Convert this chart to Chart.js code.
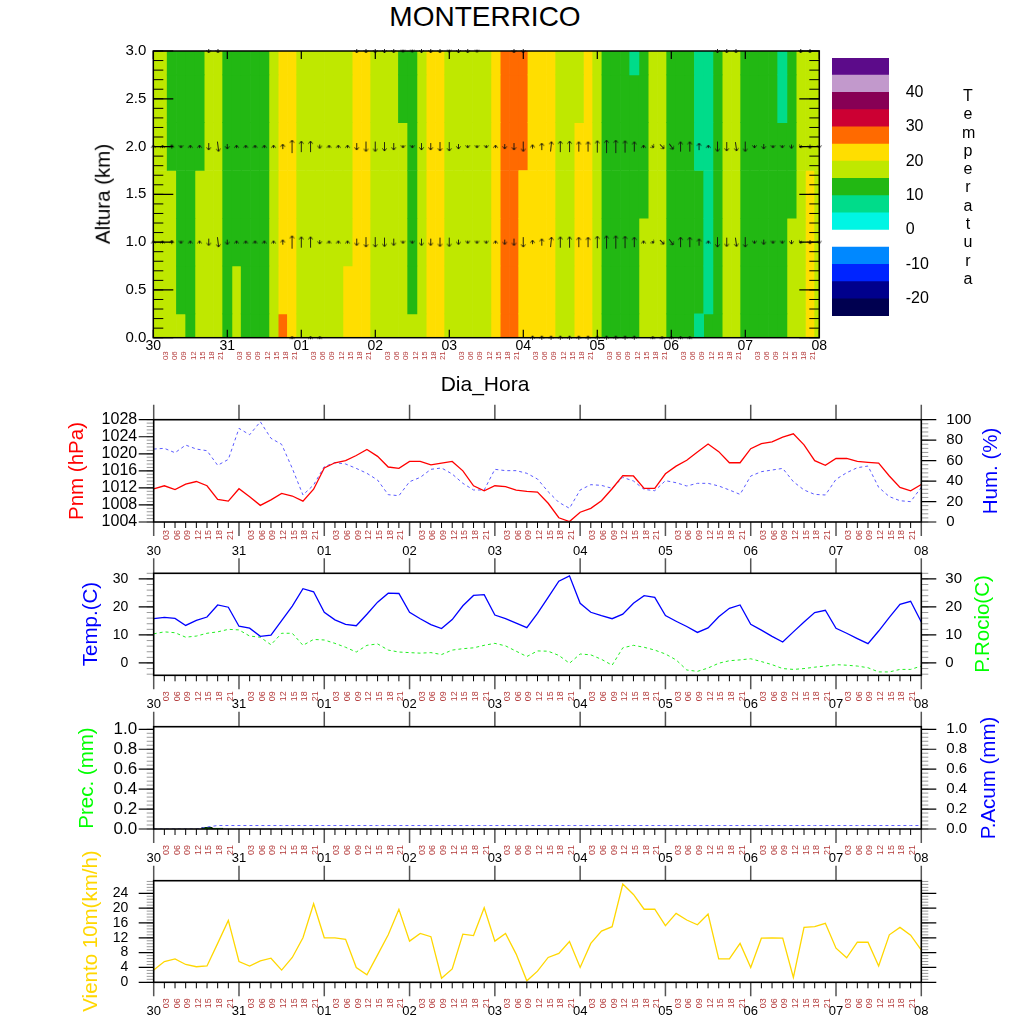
<!DOCTYPE html>
<html>
<head>
<meta charset="utf-8">
<title>MONTERRICO</title>
<script src="https://cdn.jsdelivr.net/npm/chart.js@4.4.1/dist/chart.umd.min.js"></script>
<style>
  html,body{margin:0;padding:0;background:#fff;}
  #page{position:relative;width:1024px;height:1024px;overflow:hidden;background:#fff;
        font-family:"Liberation Sans",Arial,Helvetica,sans-serif;color:#000;}
  #page canvas{position:absolute;}
  .txt{position:absolute;white-space:nowrap;line-height:1;}
  .vt{transform:translate(-50%,-50%) rotate(-90deg);font-size:20.5px;}
</style>
</head>
<body>
<div id="page">
  <div class="txt" style="left:0;top:3px;width:970px;text-align:center;font-size:28px;line-height:28px;">MONTERRICO</div>
  <canvas id="cTop" width="1024" height="340" style="left:0;top:40px;width:1024px;height:340px"></canvas>
  <canvas id="cBar" width="140" height="300" style="left:820px;top:40px;width:140px;height:300px"></canvas>
  <div class="txt" style="left:962px;top:87px;width:12px;font-size:16px;line-height:18.3px;text-align:center;word-break:break-all;white-space:normal;">Temperatura</div>
  <div class="txt" style="left:0;top:373px;width:970px;text-align:center;font-size:21px;line-height:21px;">Dia_Hora</div>
  <canvas id="cP2" width="1024" height="168" style="left:0;top:398px;width:1024px;height:168px"></canvas>
  <canvas id="cP3" width="1024" height="168" style="left:0;top:552px;width:1024px;height:168px"></canvas>
  <canvas id="cP4" width="1024" height="168" style="left:0;top:705px;width:1024px;height:168px"></canvas>
  <canvas id="cP5" width="1024" height="165" style="left:0;top:859px;width:1024px;height:165px"></canvas>

  <div class="txt vt" style="left:103px;top:194px;">Altura (km)</div>
  <div class="txt vt" style="left:76px;top:471px;color:#ff0000;">Pnm (hPa)</div>
  <div class="txt vt" style="left:990px;top:471px;color:#0000ff;">Hum. (%)</div>
  <div class="txt vt" style="left:90px;top:624px;color:#0000ff;">Temp.(C)</div>
  <div class="txt vt" style="left:982px;top:624px;color:#00ff00;">P.Rocio(C)</div>
  <div class="txt vt" style="left:86px;top:778px;color:#00ff00;">Prec. (mm)</div>
  <div class="txt vt" style="left:988px;top:778px;color:#0000ff;">P.Acum (mm)</div>
  <div class="txt vt" style="left:90px;top:931px;color:#ffd700;">Viento 10m(km/h)</div>
</div>

<script>
// ---------------- time axis (3-hourly) ----------------
const days  = ['30','31','01','02','03','04','05','06','07','08'];
const hours = ['00','03','06','09','12','15','18','21'];

// ---------------- contour: temperature (C) by height ----------------
const heightsKm = [0, 0.5, 1.0, 1.5, 2.0, 2.5, 3.0];
const tempH0 = [15.8,16.3,15.9,15.2,14.5,16.4,19.5,19.2,13.1,15.1, 11.5,11.9,14.6,19.8,26.5,24.8,18.1,15.4,15.8,15.6, 17.4,21.7,24.9,24.8,18.1,15.8,15.7,15.3,15.5,19.4, 24.1,24.4,17.1,15.8,16.2,15.6,17.7,23.4,29.2,29.8, 24.5,21.0,20.6,20.3,17.4,19.6,22.5,23.4,16.9,14.9, 13.0,10.9,12.5,16.5,19.5,18.7,13.8,11.7,10.5,8.5, 11.1,14.6,18.0,18.8,12.4,10.6,10.7,11.9,12.4,16.3, 19.6,22.0,16.6];
const tempH1 = [15.6,16.0,15.7,14.2,13.8,16.1,19.0,18.8,12.8,15.1, 11.3,11.7,14.2,19.2,24.6,24.2,17.8,15.3,15.6,15.5, 17.2,21.2,24.5,24.3,17.9,15.7,15.6,15.2,14.6,19.0, 23.6,23.9,16.9,15.7,16.0,15.5,17.5,23.0,28.6,29.2, 24.0,20.8,20.5,20.2,17.3,19.2,22.0,22.9,16.7,14.6, 12.8,10.8,12.3,16.3,19.1,18.4,13.5,11.5,10.3,10.4, 9.6,14.3,17.8,18.5,12.2,10.5,10.6,11.7,12.2,16.0, 19.2,21.6,16.4];
const tempH2 = [15.5,15.8,15.5,14.0,13.5,15.9,18.8,18.6,12.6,14.2, 11.2,11.6,14.0,18.9,23.8,23.6,17.6,15.2,15.5,15.4, 17.0,19.6,24.1,23.9,17.7,15.6,15.5,15.1,14.3,18.7, 23.2,23.5,16.8,15.6,15.9,15.4,17.3,22.6,28.1,28.7, 23.6,20.7,20.4,20.1,17.2,18.9,21.6,22.5,16.5,14.4, 12.7,10.7,12.2,16.1,18.8,18.2,13.3,11.4,10.2,10.3, 9.5,14.1,17.6,18.3,12.1,10.4,10.5,11.6,12.1,15.8, 18.9,21.2,16.3];
const tempH3 = [15.4,15.7,15.3,13.8,13.3,15.6,18.6,18.4,12.5,14.0, 11.1,11.5,13.8,18.6,23.2,23.1,17.4,15.2,15.4,15.3, 16.9,19.4,23.7,23.5,17.5,15.5,15.4,15.0,14.1,18.5, 22.8,23.1,16.7,15.5,15.8,15.3,17.1,22.3,27.6,28.2, 23.3,20.6,20.3,20.0,17.1,18.7,21.3,22.2,16.3,14.2, 12.6,10.6,12.1,14.8,18.5,17.9,13.1,11.3,10.1,10.2, 9.4,13.9,17.4,18.1,12.0,10.3,10.4,11.5,11.9,14.6, 18.6,20.6,16.2];
const tempH4 = [15.3,15.5,14.8,13.6,13.1,14.8,18.4,18.2,12.4,13.8, 11.0,11.4,13.6,18.4,22.8,22.7,17.2,15.1,15.3,15.2, 16.8,19.2,23.3,23.1,17.3,15.4,15.3,15.0,14.0,18.3, 22.5,22.8,16.6,15.4,15.7,15.2,17.0,22.0,27.2,27.8, 25.3,20.5,20.2,20.0,17.0,18.5,21.0,21.9,16.2,14.1, 12.5,10.5,12.0,14.6,18.3,17.7,13.0,11.2,10.0,9.6, 9.3,13.8,17.3,17.9,11.9,10.2,10.3,11.4,11.7,14.4, 18.4,19.6,16.1];
const tempH5 = [15.2,15.4,14.6,13.5,13.0,14.7,18.2,18.0,12.3,13.7, 10.9,11.3,13.5,18.2,22.5,22.4,17.1,15.1,15.2,15.1, 16.7,19.0,23.0,22.8,17.2,15.3,15.2,14.8,13.9,18.1, 22.2,22.5,16.5,15.3,15.6,15.1,16.9,21.7,26.8,27.4, 25.6,20.4,20.1,20.0,16.9,18.3,19.8,21.6,16.1,14.0, 12.4,10.4,11.9,14.4,18.1,17.5,12.9,11.1,10.1,9.2, 9.2,13.7,17.2,17.7,11.8,10.1,10.2,11.3,9.8,14.2, 18.2,19.3,16.0];
const tempH6 = [15.1,15.3,14.4,13.4,12.9,14.6,18.0,17.8,12.2,13.6, 10.8,11.2,13.4,18.0,22.2,22.1,17.0,15.0,15.1,15.0, 16.6,18.8,22.7,22.5,17.1,15.2,15.1,14.6,13.8,17.9, 21.9,22.2,16.4,15.2,15.5,15.0,16.8,21.4,26.5,27.1, 25.8,20.3,20.1,20.0,16.8,18.1,19.6,21.3,16.0,13.9, 12.3,10.3,9.8,14.2,17.9,17.3,12.8,11.0,10.2,8.9, 9.1,13.6,17.1,17.5,11.7,10.0,10.1,11.2,9.6,14.0, 18.0,19.1,15.9];
const tempRows = [tempH0, tempH1, tempH2, tempH3, tempH4, tempH5, tempH6];

// contour levels and colours (C)
const levelBounds = [-25,-20,-15,-10,-5,0,5,10,15,20,25,30,35,40,45,50];
const levelColors = ['#000050','#00008c','#0024ff','#0088ff','#ffffff','#00f5e4','#00dc8a','#22b813','#bfe800','#ffde00','#ff6a00','#cc0033','#870055','#c299cc','#5c0b8a'];
const cbarLabels  = [-20,-10,0,10,20,30,40];

// ---------------- wind vectors (arbitrary units; v = north, u = east) ----------------
const windLevelsKm = [0, 1, 2, 3];
const windV0 = [0,0,0,0,0,0,0,0,0,0, 0,0,0,0,0,1,0,0.5,0.5,0, 0,0,0,0,0,0,0,0,0,0, 0,0,0,0,0,0,0,0,0,0, 0,1.5,1.5,1.5,1.5,1.5,1.5,1.5,1.5,1.5, 1.5,1.5,1.5,0,1,1,1,1,1,0, 0,0,0,0,0,0,0,0,0,0, 0,0,0];
const windV1 = [0.5,1,1.5,-1,0.5,0.5,-2.5,-4,-2,0.5, 0.5,0.5,0.5,0.5,2,5.5,4.5,4.5,-1.5,0.5, 0.5,0.5,-2.5,-4,-4,-3.5,-2.5,-1,-0.5,-2.5, -2.5,-3.5,-3.5,-2,-0.5,-0.5,-0.5,0.5,-2,-2.5, -4,1.5,2.5,4,4.5,4.5,4,4,5,5.5, 5.5,5,4,0.5,-0.5,-1.5,-2,4,4,2.5, 0.5,-4,-3.5,-3.5,-4,-1,-2,-0.5,-0.5,-1.5, -1,-1.5,-1];
const windU1 = [0,0,0,0,0,0,0,0.5,0,0, 0,0,0,0,0,0,0,0,0,0, 0,0,0,0,0,0,0,0,0,0, 0,0,0,0,0,0,0,0,0,0, 0,0,0,0.4,0,0,0,0,0,0, 0,0,0,0,0.5,1.5,1.5,0,0,0, 0,0,0,0.5,0,0,0,0,0,0, -0.5,0,0];
const windV2 = [0.5,1,1.5,-1,0.5,0.5,-2.5,-4,-2,0.5, 0.5,0.5,0.5,0.5,2,5.5,4.5,4.5,-1.5,0.5, 0.5,0.5,-2.5,-4,-4,-3.5,-2.5,-1,-0.5,-2.5, -2.5,-3.5,-3.5,-2,-0.5,-0.5,-0.5,0.5,-2,-2.5, -4,1.5,2.5,4,4.5,4.5,4,4,5,5.5, 5.5,5,4,0.5,-0.5,-1.5,-2,4,4,2.5, 0.5,-4,-3.5,-3.5,-4,-1,-2,-0.5,-0.5,-1.5, -1,-1.5,-1];
const windU2 = [0,0,0,0,0,0,0,0.5,0,0, 0,0,0,0,0,0,0,0,0,0, 0,0,0,0,0,0,0,0,0,0, 0,0,0,0,0,0,0,0,0,0, 0,0,0,0.4,0,0,0,0,0,0, 0,0,0,0,0.5,1.5,1.5,0,0,0, 0,0,0,0.5,0,0,0,0,0,0, -0.5,0,0];
const windV3 = [0,0,0,0,0,0,-1.5,-1.5,0,0, 0,0,0,0,0,0,0,0,0,0, 0,0,-1.5,-1.5,-1.5,-1.5,-1.5,-0.5,-0.5,-1.5, -1.5,-1.5,-0.5,-1.5,-1.5,-0.5,0,0,0,-1.5, -1.5,0,0,0,0,0,0,0,0,0, 0,0,0,0,0,0,0,0,0,0, 0,-1.5,-1.5,-1.5,0,0,0,0,0,0, -1.5,-1.5,0];

// ---------------- surface series ----------------
const pnm = [1011.8,1012.5,1011.6,1012.9,1013.5,1012.5,1009.3,1008.9,1011.8,1009.9, 1007.9,1009.2,1010.7,1010.1,1008.9,1011.7,1016.7,1017.9,1018.4,1019.6, 1021.0,1019.4,1016.9,1016.6,1018.2,1018.2,1017.4,1017.8,1018.2,1016.0, 1012.5,1011.3,1012.5,1012.3,1011.5,1011.2,1011.0,1008.4,1005.0,1004.1, 1006.3,1007.2,1009.0,1011.8,1014.9,1014.8,1011.9,1011.9,1015.3,1017.1, 1018.5,1020.4,1022.3,1020.5,1017.9,1017.9,1021.2,1022.4,1022.8,1023.9, 1024.7,1022.1,1018.4,1017.3,1018.9,1018.9,1018.2,1018.0,1017.8,1014.8, 1012.1,1011.3,1012.8];
const hum = [71.3,72.0,67.7,75.2,71.3,69.7,55.4,61.2,91.5,85.3, 98.0,81.8,75.9,52.4,26.4,36.2,54.1,58.0,56.7,52.4, 47.6,41.0,26.7,25.7,39.4,43.6,51.5,52.8,46.9,37.8, 31.3,31.3,51.5,50.2,50.2,47.6,42.0,29.6,19.2,13.4, 31.3,36.5,35.8,32.9,43.6,40.1,31.9,30.6,40.4,38.4, 35.2,37.8,37.8,35.2,31.3,27.0,44.9,49.2,50.8,52.4, 39.4,31.3,27.0,26.4,41.7,48.2,53.1,54.7,33.9,24.8, 20.8,19.9,33.9];
const temp = [15.8,16.3,15.9,13.4,15.2,16.4,20.7,19.9,13.1,12.4, 9.5,9.9,15.1,20.3,26.5,25.4,18.1,15.4,13.8,13.3, 17.4,21.7,24.9,24.8,18.1,15.8,13.7,12.3,15.5,20.4, 24.1,24.4,17.1,15.8,14.2,12.6,17.7,23.4,29.2,31.1, 21.3,18.1,16.9,15.8,17.4,21.3,24.0,23.4,16.9,14.9, 13.0,10.9,12.5,16.5,19.5,20.7,13.8,11.7,9.5,7.5, 11.1,14.6,18.0,18.8,12.4,10.6,8.7,6.9,11.4,16.3, 20.9,22.0,14.6];
const dew = [10.4,11.1,10.8,9.2,9.6,10.6,11.1,12.0,11.8,9.6, 9.2,6.5,10.6,10.6,6.3,8.4,8.2,7.0,5.6,3.9, 6.3,6.8,4.6,3.9,3.7,3.5,3.7,3.0,4.6,5.1, 5.4,6.3,7.0,6.1,4.2,2.3,4.3,4.2,2.7,-0.1, 3.2,2.9,1.3,-0.8,5.4,6.3,5.6,4.6,3.2,1.1, -2.5,-3.0,-1.8,-0.1,0.8,1.1,1.5,0.5,-0.6,-2.0, -2.3,-2.0,-1.5,-1.1,-0.6,-0.8,-1.1,-1.7,-3.2,-3.2, -2.3,-2.3,-1.1];
const prec = [0,0,0,0,0,0.017,0.01,0,0,0, 0,0,0,0,0,0,0,0,0,0, 0,0,0,0,0,0,0,0,0,0, 0,0,0,0,0,0,0,0,0,0, 0,0,0,0,0,0,0,0,0,0, 0,0,0,0,0,0,0,0,0,0, 0,0,0,0,0,0,0,0,0,0, 0,0,0];
const pacum = [0,0,0,0,0,0.02,0.035,0.035,0.035,0.035, 0.035,0.035,0.035,0.035,0.035,0.035,0.035,0.035,0.035,0.035, 0.035,0.035,0.035,0.035,0.035,0.035,0.035,0.035,0.035,0.035, 0.035,0.035,0.035,0.035,0.035,0.035,0.035,0.035,0.035,0.035, 0.035,0.035,0.035,0.035,0.035,0.035,0.035,0.035,0.035,0.035, 0.035,0.035,0.035,0.035,0.035,0.035,0.035,0.035,0.035,0.035, 0.035,0.035,0.035,0.035,0.035,0.035,0.035,0.035,0.035,0.035, 0.035,0.035,0.035];
const wind10m = [3.3,5.6,6.3,4.8,4.2,4.4,10.5,16.7,5.6,4.4, 5.8,6.5,3.3,6.7,12.0,21.2,12.0,12.0,11.6,4.0, 2.0,7.4,12.8,19.7,11.1,13.2,12.3,1.1,3.6,13.0, 12.6,20.1,11.1,13.2,7.6,0.4,3.0,6.7,7.8,11.0, 4.0,10.5,13.8,15.0,26.5,23.7,19.7,19.7,15.3,18.6, 16.8,15.5,18.4,6.3,6.3,10.5,4.0,11.9,12.0,11.9, 1.3,14.8,15.0,15.9,9.2,6.6,10.8,10.8,4.4,12.8, 14.8,12.7,8.7];

// ---------------- layout tweaks: exact, unclipped axis boxes ----------------
if (Chart.Scale) {
  Chart.Scale.prototype.getPadding = function () { return {left: 0, top: 0, right: 0, bottom: 0}; };
  Chart.Scale.prototype._computeLabelArea = function () { return undefined; };
}

// ---------------- helpers ----------------
const perDay = hours.length;
const nSteps = (days.length - 1) * perDay;
const stepIdx = Array.from({length: nSteps + 1}, (_, i) => i);
const dayTicks = stepIdx.filter(v => v % perDay === 0);
const hourTicks = stepIdx.filter(v => v % perDay !== 0);
const FONT = '"Liberation Sans", Arial, Helvetica, sans-serif';
const HOUR_COLOR = '#b43c3c';
const xy = arr => arr.map((v, i) => ({x: i, y: v}));
function range(a, b, s) { const r = []; for (let k = 0; a + k * s <= b + 1e-9; k++) r.push(+(a + k * s).toFixed(6)); return r; }

const frameTicks = {
  id: 'frameTicks',
  afterDatasetsDraw(chart, args, o) {
    const ctx = chart.ctx, a = chart.chartArea;
    ctx.save();
    (o.marks || []).forEach(m => {
      const sc = chart.scales[m.scale];
      if (!sc) return;
      ctx.strokeStyle = m.color || '#000';
      ctx.lineWidth = m.width || 1;
      ctx.beginPath();
      m.values.forEach(v => {
        const p = sc.getPixelForValue(v);
        const d = m.dir === 'in' ? -m.len : m.len;
        m.sides.forEach(s => {
          if (s === 'bottom') { ctx.moveTo(p, a.bottom); ctx.lineTo(p, a.bottom + d); }
          else if (s === 'top') { ctx.moveTo(p, a.top); ctx.lineTo(p, a.top - d); }
          else if (s === 'left') { ctx.moveTo(a.left, p); ctx.lineTo(a.left - d, p); }
          else if (s === 'right') { ctx.moveTo(a.right, p); ctx.lineTo(a.right + d, p); }
        });
      });
      ctx.stroke();
    });
    if (o.frameWidth) {
      ctx.strokeStyle = '#000'; ctx.lineWidth = o.frameWidth;
      ctx.strokeRect(a.left, a.top, a.right - a.left, a.bottom - a.top);
    }
    ctx.restore();
  }
};

function dayAxis(height, pad, size, weight) {
  return {
    type: 'linear', position: 'bottom', min: 0, max: nSteps, offset: false, weight,
    grid: {display: false, drawTicks: false}, border: {display: false},
    afterBuildTicks: s => { s.ticks = dayTicks.map(v => ({value: v})); },
    afterFit: s => { s.height = height; },
    ticks: {autoSkip: false, minRotation: 0, maxRotation: 0, padding: pad, color: '#000',
            font: {family: FONT, size}, callback: v => days[Math.round(v / perDay)]}
  };
}
function hourAxis(height, pad, size, labelOffset, weight) {
  return {
    type: 'linear', position: 'bottom', min: 0, max: nSteps, offset: false, weight,
    grid: {display: false, drawTicks: false}, border: {display: false},
    afterBuildTicks: s => { s.ticks = hourTicks.map(v => ({value: v})); },
    afterFit: s => { s.height = height; },
    ticks: {autoSkip: false, minRotation: 90, maxRotation: 90, padding: pad, labelOffset, color: HOUR_COLOR,
            font: {family: FONT, size}, callback: v => hours[Math.round(v) % perDay]}
  };
}
function yAxis(position, spec, width) {
  return {
    type: 'linear', position, min: spec.min, max: spec.max,
    grid: {display: false, drawTicks: false}, border: {display: false},
    afterBuildTicks: s => { s.ticks = spec.majors.map(v => ({value: v})); },
    afterFit: s => { s.width = width; },
    ticks: {autoSkip: false, padding: spec.pad, color: '#000', font: {family: FONT, size: spec.size},
            callback: v => spec.fmt(v)}
  };
}
const base = {responsive: false, maintainAspectRatio: false, animation: false, events: [],
              layout: {autoPadding: false}};
const noLegend = {legend: {display: false}, tooltip: {enabled: false}};

// ---------------- top panel: contour + wind arrows ----------------
function binOf(v) {
  for (let k = 0; k < levelColors.length; k++) if (v >= levelBounds[k] && v < levelBounds[k + 1]) return k;
  return v < levelBounds[0] ? 0 : levelColors.length - 1;
}
const halfRow = (heightsKm[1] - heightsKm[0]) / 2;
const hMin = heightsKm[0], hMax = heightsKm[heightsKm.length - 1];
const contourSets = levelColors.map(c => ({
  type: 'bar', data: [], backgroundColor: c, borderWidth: 0, grouped: false,
  barPercentage: 1, categoryPercentage: 1, clip: 0, order: 2
}));
tempRows.forEach((row, r) => {
  const h = heightsKm[r];
  const lo = Math.max(hMin, h - halfRow), hi = Math.min(hMax, h + halfRow);
  row.forEach((v, i) => contourSets[binOf(v)].data.push({x: i, y: [lo, hi]}));
});

const windLevels = [
  {h: windLevelsKm[0], u: null, v: windV0},
  {h: windLevelsKm[1], u: windU1, v: windV1},
  {h: windLevelsKm[2], u: windU2, v: windV2},
  {h: windLevelsKm[3], u: null, v: windV3}
];
const arrowData = [];
windLevels.forEach(L => L.v.forEach((v, i) => arrowData.push({x: i, y: L.h, u: L.u ? L.u[i] : 0, v})));
const spd = r => r ? Math.hypot(r.u, r.v) : 0;
const arrowCache = {};
function arrowImg(s) {
  const L = Math.max(3, Math.round(2.2 * s + 1));
  if (arrowCache[L]) return arrowCache[L];
  const c = document.createElement('canvas');
  c.width = 7; c.height = L + 2;
  const g = c.getContext('2d');
  g.strokeStyle = '#111'; g.lineWidth = 0.9;
  g.beginPath();
  g.moveTo(3.5, L + 1); g.lineTo(3.5, 1);
  g.moveTo(1.4, 3.6); g.lineTo(3.5, 1); g.lineTo(5.6, 3.6);
  g.stroke();
  arrowCache[L] = c;
  return c;
}
const arrowSet = {
  type: 'scatter', data: arrowData, clip: false, order: 1,
  pointStyle: c => c.raw ? arrowImg(spd(c.raw)) : 'circle',
  pointRadius: c => (c.raw && spd(c.raw) > 0) ? 3 : 0,
  pointHoverRadius: 0,
  pointRotation: c => c.raw ? Math.atan2(c.raw.u, c.raw.v) * 180 / Math.PI : 0
};

const topY = {min: hMin, max: hMax, majors: range(0, 3, 0.5), pad: 7, size: 15, fmt: v => v.toFixed(1)};
new Chart(document.getElementById('cTop'), {
  type: 'bar',
  data: {datasets: [arrowSet, ...contourSets]},
  options: {
    ...base,
    layout: {autoPadding: false, padding: {top: 11, bottom: 15.3, left: 0, right: 204.7}},
    scales: {
      x: dayAxis(13, 0, 14, 0),
      x2: hourAxis(14, 0.5, 8, 3, 1),
      y: yAxis('left', topY, 153.3)
    },
    plugins: {...noLegend, frameTicks: {frameWidth: 1.5, marks: [
      {scale: 'x', values: dayTicks, sides: ['bottom', 'top'], dir: 'in', len: 8, color: '#000', width: 1.2},
      {scale: 'y', values: range(0, 3, 0.1), sides: ['left', 'right'], dir: 'in', len: 10, color: '#000', width: 1},
      {scale: 'y', values: topY.majors, sides: ['left', 'right'], dir: 'in', len: 20, color: '#000', width: 1.2}
    ]}}
  },
  plugins: [frameTicks]
});

// ---------------- colour bar ----------------
new Chart(document.getElementById('cBar'), {
  type: 'bar',
  data: {labels: [''], datasets: levelColors.map((c, k) => ({
    data: [[levelBounds[k], levelBounds[k + 1]]], backgroundColor: c, borderWidth: 0,
    grouped: false, barPercentage: 1, categoryPercentage: 1
  }))},
  options: {
    ...base,
    layout: {autoPadding: false, padding: {top: 18, bottom: 24, left: 12, right: 0}},
    scales: {
      x: {display: false},
      y: yAxis('right', {min: levelBounds[0], max: levelBounds[levelBounds.length - 1], majors: cbarLabels,
                         pad: 16.7, size: 16, fmt: v => String(v)}, 71)
    },
    plugins: noLegend
  }
});

// ---------------- lower panels ----------------
const LEFT = 153.7, RIGHT = 921.3, RW = 60;
function yMarks(spec, id, side) {
  return [
    {scale: id, values: spec.minors, sides: [side], dir: 'out', len: 7, color: '#9a9a9a', width: 1},
    {scale: id, values: spec.majors, sides: [side], dir: 'out', len: 15, color: '#000', width: 1.2}
  ];
}
function lowerPanel(id, p) {
  const scales = {
    x: hourAxis(20, p.hourPad, 9, 2, 0),
    x2: dayAxis(14, 1.2, 13, 1),
    yL: yAxis('left', p.yL, LEFT)
  };
  if (p.yR) scales.yR = yAxis('right', p.yR, RW);
  const marks = [
    {scale: 'x', values: hourTicks, sides: ['bottom'], dir: 'out', len: 6, color: '#000', width: 1},
    {scale: 'x', values: dayTicks, sides: ['bottom'], dir: 'out', len: 14, color: '#555', width: 1.5},
    {scale: 'x', values: dayTicks, sides: ['top'], dir: 'out', len: 15, color: '#555', width: 1.5},
    ...yMarks(p.yL, 'yL', 'left')
  ];
  if (p.yR) marks.push(...yMarks(p.yR, 'yR', 'right'));
  else marks.push(...yMarks(p.yL, 'yL', 'right'));
  return new Chart(document.getElementById(id), {
    type: p.type || 'line',
    data: {datasets: p.datasets},
    options: {
      ...base,
      layout: {autoPadding: false, padding: {top: p.padTop, bottom: p.padBottom, left: 0, right: 1024 - RIGHT - (p.yR ? RW : 0)}},
      scales,
      plugins: {...noLegend, frameTicks: {frameWidth: 1.6, marks}}
    },
    plugins: [frameTicks]
  });
}
const lineDs = (arr, axis, color, dash, w) => ({
  type: 'line', data: xy(arr), yAxisID: axis, borderColor: color, borderWidth: w || 1.3,
  borderDash: dash || [], pointRadius: 0, tension: 0, fill: false
});

// Pnm / Hum
lowerPanel('cP2', {
  padTop: 21.7, padBottom: 10, hourPad: 8,
  yL: {min: 1004, max: 1028, majors: range(1004, 1028, 4), minors: range(1004, 1028, 0.8), pad: 16.5, size: 16, fmt: v => String(v)},
  yR: {min: 0, max: 100, majors: range(0, 100, 20), minors: range(0, 100, 4), pad: 25, size: 15, fmt: v => String(v)},
  datasets: [lineDs(pnm, 'yL', '#ff0000'), lineDs(hum, 'yR', '#5a5aff', [3, 3], 1)]
});

// Temp / Dew point
const tSpec = {min: -4.4, max: 32, majors: [0, 10, 20, 30], minors: range(-4, 32, 2), fmt: v => String(v)};
lowerPanel('cP3', {
  padTop: 21.3, padBottom: 10.7, hourPad: 16,
  yL: {...tSpec, pad: 25.5, size: 14},
  yR: {...tSpec, pad: 24, size: 15},
  datasets: [lineDs(temp, 'yL', '#0000ff'), lineDs(dew, 'yR', '#22ee22', [3, 3], 1)]
});

// Precipitation / accumulated
const pSpec = {min: 0, max: 1.026, majors: range(0, 1, 0.2), minors: range(0, 1, 0.04), fmt: v => v.toFixed(1)};
lowerPanel('cP4', {
  type: 'bar', padTop: 21.7, padBottom: 10, hourPad: 16,
  yL: {...pSpec, pad: 16.5, size: 17},
  yR: {...pSpec, pad: 25, size: 15},
  datasets: [
    {type: 'bar', data: xy(prec), yAxisID: 'yL', backgroundColor: '#00cc00', borderColor: '#000', borderWidth: 1,
     barPercentage: 1, categoryPercentage: 1, grouped: false, clip: 0, order: 2},
    {...lineDs(pacum, 'yR', '#6060ff', [3, 3], 1), order: 1}
  ]
});

// Wind 10 m
lowerPanel('cP5', {
  padTop: 21.7, padBottom: 7.7, hourPad: 16,
  yL: {min: 0, max: 27.4, majors: range(0, 24, 4), minors: range(0, 27.2, 0.8), pad: 25.5, size: 14, fmt: v => String(v)},
  datasets: [lineDs(wind10m, 'yL', '#ffd700')]
});
</script>
</body>
</html>
